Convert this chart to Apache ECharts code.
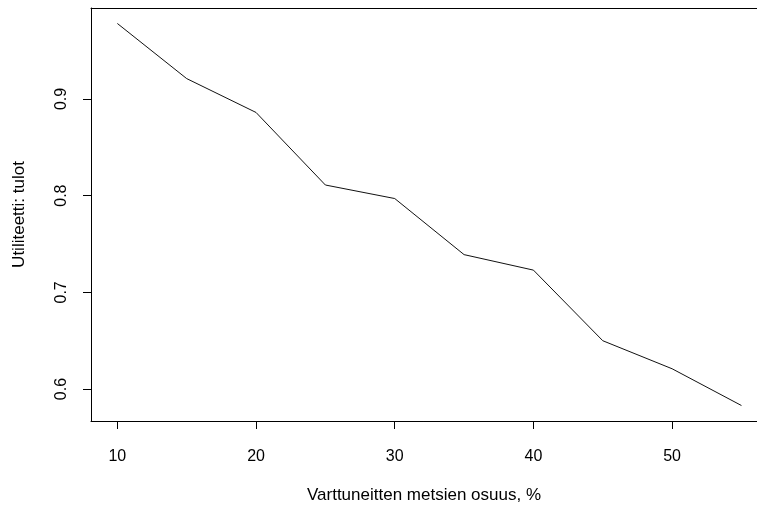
<!DOCTYPE html>
<html>
<head>
<meta charset="utf-8">
<script src="https://cdn.jsdelivr.net/npm/echarts@6/dist/echarts.min.js"></script>
<style>html,body{margin:0;padding:0;background:#fff;}#c{width:757px;height:509px;}</style>
</head>
<body>
<div id="c"></div>
<script>
var xValues = [10, 15, 20, 25, 30, 35, 40, 45, 50, 55];
var yValues = [0.978, 0.921, 0.886, 0.811, 0.797, 0.739, 0.723, 0.650, 0.621, 0.583];
var xTicks = [10, 20, 30, 40, 50];
var yTicks = [0.6, 0.7, 0.8, 0.9];
var xTitle = 'Varttuneitten metsien osuus, %';
var yTitle = 'Utiliteetti: tulot';

var chart = echarts.init(document.getElementById('c'), null, {renderer: 'canvas'});
var font = 'Liberation Sans, Arial, sans-serif';
var axisLine = {show: true, onZero: false, lineStyle: {color: '#000', width: 1}};
chart.setOption({
  animation: false,
  backgroundColor: '#fff',
  grid: {left: 91, top: 8, right: 0, bottom: 87, show: false, containLabel: false},
  xAxis: [{
    type: 'value', min: 8.1, max: 56.12, position: 'bottom',
    axisLine: axisLine,
    splitLine: {show: false},
    axisTick: {show: true, length: 8, inside: false, customValues: xTicks, lineStyle: {color: '#000', width: 1}},
    axisLabel: {customValues: xTicks, margin: 28, color: '#000', fontSize: 16, fontFamily: font},
    name: xTitle, nameLocation: 'middle', nameGap: 66,
    nameTextStyle: {color: '#000', fontSize: 17, fontFamily: font}
  }, {
    type: 'value', min: 8.1, max: 56.12, position: 'top',
    axisLine: axisLine,
    splitLine: {show: false},
    axisTick: {show: false},
    axisLabel: {show: false}
  }],
  yAxis: {
    type: 'value', min: 0.567, max: 0.994,
    axisLine: axisLine,
    splitLine: {show: false},
    axisTick: {show: true, length: 8, inside: false, customValues: yTicks, lineStyle: {color: '#000', width: 1}},
    axisLabel: {customValues: yTicks, rotate: 90, margin: 21, color: '#000', fontSize: 16, fontFamily: font,
      formatter: function (v) { return v.toFixed(1); }},
    name: yTitle, nameLocation: 'middle', nameGap: 63, nameRotate: 90,
    nameTextStyle: {color: '#000', fontSize: 17, fontFamily: font}
  },
  series: [{
    type: 'line',
    xAxisIndex: 0,
    data: xValues.map(function (x, i) { return [x, yValues[i]]; }),
    symbol: 'none',
    smooth: false,
    lineStyle: {color: '#111', width: 1}
  }]
});
</script>
</body>
</html>
